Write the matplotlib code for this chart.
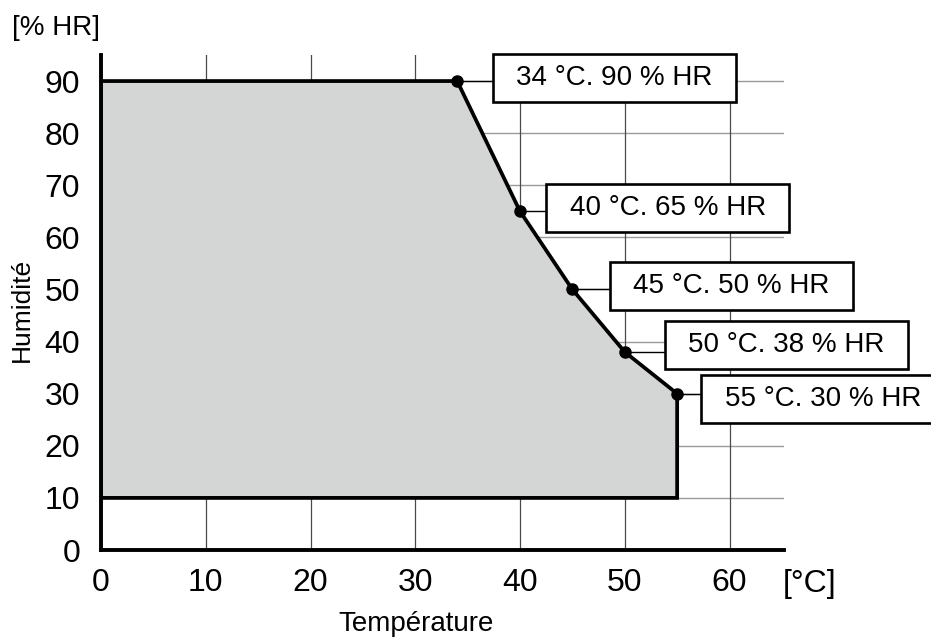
import matplotlib
matplotlib.use('Agg')
import matplotlib.pyplot as plt
from matplotlib.patches import Polygon, Rectangle

plt.rcParams['font.family'] = ['Liberation Sans', 'DejaVu Sans']

# limit points of the operating envelope (temperature, humidity)
temps = [34, 40, 45, 50, 55]
humid = [90, 65, 50, 38, 30]
floor_hum = 10
labels = ['34 °C. 90 % HR', '40 °C. 65 % HR', '45 °C. 50 % HR',
          '50 °C. 38 % HR', '55 °C. 30 % HR']
xticks = [0, 10, 20, 30, 40, 50, 60]
yticks = [0, 10, 20, 30, 40, 50, 60, 70, 80, 90]

# label box centres (layout only)
box_x = [49.0, 54.1, 60.2, 65.4, 68.9]
box_y = [90.6, 65.7, 50.7, 39.3, 29.0]
box_w, box_h = 23.2, 9.2

W, H = 931, 638
fig = plt.figure(figsize=(W / 100, H / 100), dpi=100)
ax = fig.add_axes([101 / W, 88 / H, 683 / W, 495 / H])
ax.set_xlim(0, 65.2)
ax.set_ylim(0, 95)

# envelope polygon
xs = [0, 0] + temps + [temps[-1]]
ys = [floor_hum, humid[0]] + humid + [floor_hum]
ax.add_patch(Polygon(list(zip(xs, ys)), closed=True, facecolor='#d4d6d6',
                     edgecolor='black', lw=2.7, zorder=2, joinstyle='miter'))
ax.plot(temps, humid, 'o', color='black', ms=8, zorder=4)

# grid
for y in yticks[1:]:
    ax.axhline(y, color='#9a9a9a', lw=1, zorder=1)
for x in xticks[1:]:
    ax.axvline(x, color='#4a4a4a', lw=0.9, zorder=1)

for spine in ['top', 'right']:
    ax.spines[spine].set_visible(False)
for spine in ['left', 'bottom']:
    ax.spines[spine].set_linewidth(2.8)
    ax.spines[spine].set_zorder(5)

ax.set_xticks(xticks)
ax.set_yticks(yticks)
ax.tick_params(length=0, labelsize=23)
ax.tick_params(axis='y', pad=15)
ax.tick_params(axis='x', pad=13)

# label boxes with connectors
for t, h, lab, bx, by in zip(temps, humid, labels, box_x, box_y):
    left = bx - box_w / 2
    ax.plot([t, left], [h, h], color='black', lw=1, zorder=3, clip_on=False)
    ax.add_patch(Rectangle((left, by - box_h / 2), box_w, box_h,
                           facecolor='white', edgecolor='black', lw=1.9,
                           zorder=6, clip_on=False))
    ax.text(bx, by, lab, ha='center', va='center', fontsize=20, zorder=7,
            clip_on=False)

fig.text(12 / W, 1 - 28 / H, '[% HR]', ha='left', va='center', fontsize=20)
fig.text(783 / W, 1 - 584 / H, '[°C]', ha='left', va='center', fontsize=23)
fig.text(416 / W, 1 - 624 / H, 'Température', ha='center', va='center',
         fontsize=20)
fig.text(22 / W, 1 - 310 / H, 'Humidité', ha='center', va='center',
         rotation=90, fontsize=19)

fig.savefig('out.png', dpi=100)
